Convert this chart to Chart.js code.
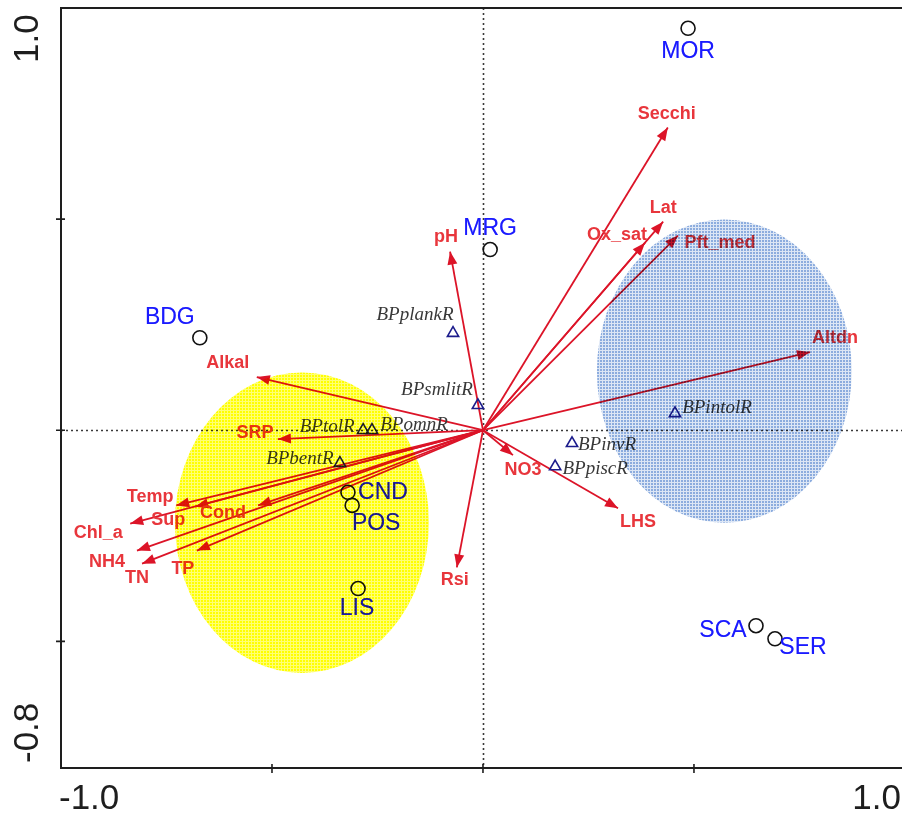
<!DOCTYPE html>
<html>
<head>
<meta charset="utf-8">
<script src="https://cdn.jsdelivr.net/npm/chart.js@4.4.1/dist/chart.umd.min.js"></script>
<style>
  html, body { margin: 0; padding: 0; background: #ffffff; }
  canvas { display: block; }
</style>
</head>
<body>
<canvas id="rda" width="902" height="814"></canvas>
<script>
// Environmental variables drawn as biplot arrows from the origin
const envNames = ['Secchi','Lat','Ox_sat','Pft_med','Altdn','pH','Alkal','SRP','Temp','Sup','Cond','Chl_a','NH4','TN','TP','NO3','LHS','Rsi'];
const envX = [0.438, 0.427, 0.384, 0.462, 0.775, -0.078, -0.536, -0.486, -0.727, -0.682, -0.533, -0.836, -0.820, -0.808, -0.678, 0.071, 0.320, -0.062];
const envY = [0.717, 0.494, 0.444, 0.461, 0.185, 0.423, 0.126, -0.021, -0.178, -0.181, -0.178, -0.221, -0.285, -0.316, -0.285, -0.059, -0.185, -0.325];

// Sampling sites
const siteNames = ['MOR','MRG','BDG','CND','POS','LIS','SCA','SER'];
const siteX = [0.486, 0.017, -0.671, -0.320, -0.310, -0.296, 0.647, 0.692];
const siteY = [0.952, 0.428, 0.219, -0.147, -0.178, -0.375, -0.463, -0.494];

// Biological metrics
const sppNames = ['BPplankR','BPsmlitR','BPtolR','BPomnR','BPbentR','BPintolR','BPinvR','BPpiscR'];
const sppX = [-0.071, -0.012, -0.284, -0.263, -0.339, 0.455, 0.211, 0.171];
const sppY = [0.230, 0.059, 0.000, 0.000, -0.078, 0.040, -0.031, -0.086];

// Site groups (centre and semi-axes, in axis units)
const groupCX = [-0.429, 0.572];
const groupCY = [-0.219, 0.140];
const groupRX = [0.301, 0.302];
const groupRY = [0.356, 0.359];

// Axis tick labels
const xTickValues = [-1.0, 1.0];
const xTickLabels = ['-1.0', '1.0'];
const yTickValues = [1.0, -0.8];
const yTickLabels = ['1.0', '-0.8'];

// ---- layout / styling (pixel offsets of labels from their marks) ----
const envLabelOffset = {
  Secchi: [-1, -13], Lat: [0, -14], Ox_sat: [-28, -8], Pft_med: [42, 7], Altdn: [25, -14],
  pH: [-4, -15], Alkal: [-29, -14], SRP: [-23, -6], Temp: [-26, -8], Sup: [-27, 13],
  Cond: [-35, 8], Chl_a: [-32, 9], NH4: [-30, 11], TN: [-5, 14], TP: [-14, 18],
  NO3: [10, 15], LHS: [20, 14], Rsi: [-2, 13]
};
const siteLabelOffset = {
  MOR: [0, 23], MRG: [0, -21], BDG: [-30, -20], CND: [35, 0],
  POS: [24, 18], LIS: [-1, 20], SCA: [-33, 5], SER: [28, 9]
};
const sppLabelOffset = {
  BPplankR: [-38, -18], BPsmlitR: [-41, -15], BPtolR: [-36, -3], BPomnR: [42, -5],
  BPbentR: [-40, -4], BPintolR: [42, -5], BPinvR: [35, 2], BPpiscR: [40, 2]
};

const ARROW_RED = '#dc1428';
const LABEL_RED = '#e8363c';
const SITE_BLUE = '#1a1aff';
const SPP_NAVY = '#1c1c8c';
const AXIS_DARK = '#1e1e1e';
const SITE_FONT = '23px "Liberation Sans", Arial, sans-serif';

// small repeating tile: solid cells separated by faint grid lines
function makePattern(rgb, gapAlpha) {
  const t = document.createElement('canvas');
  t.width = 3; t.height = 3;
  const g = t.getContext('2d');
  g.fillStyle = 'rgba(' + rgb + ',' + gapAlpha + ')';
  g.fillRect(0, 0, 3, 3);
  g.clearRect(0, 0, 2, 2);
  g.fillStyle = 'rgb(' + rgb + ')';
  g.fillRect(0, 0, 2, 2);
  return t;
}

const groupPatternRGB = ['255,255,0', '140,172,222'];
const groupGapAlpha = [0.55, 0.3];

// Arrow shafts, one line dataset per variable
const arrowDatasets = envNames.map((n, i) => ({
  label: n,
  data: [{ x: 0, y: 0 }, { x: envX[i], y: envY[i] }],
  showLine: true,
  borderColor: ARROW_RED,
  borderWidth: 1.8,
  pointRadius: 0,
  fill: false
}));

const siteDataset = {
  label: 'sites',
  data: siteNames.map((n, i) => ({ x: siteX[i], y: siteY[i] })),
  pointStyle: 'circle',
  pointRadius: 7,
  borderColor: '#111111',
  backgroundColor: 'rgba(0,0,0,0)',
  borderWidth: 1.6,
  showLine: false
};

const sppDataset = {
  label: 'metrics',
  data: sppNames.map((n, i) => ({ x: sppX[i], y: sppY[i] })),
  pointStyle: 'triangle',
  pointRadius: 6.5,
  borderColor: SPP_NAVY,
  backgroundColor: 'rgba(0,0,0,0)',
  borderWidth: 1.6,
  showLine: false
};

function drawSiteLabels(ctx, x, y) {
  ctx.font = SITE_FONT;
  ctx.fillStyle = SITE_BLUE;
  siteNames.forEach((n, i) => {
    const o = siteLabelOffset[n];
    ctx.fillText(n, x.getPixelForValue(siteX[i]) + o[0], y.getPixelForValue(siteY[i]) + o[1]);
  });
}

const biplotPlugin = {
  id: 'biplot',
  beforeDatasetsDraw(chart) {
    const { ctx, chartArea: a, scales: { x, y } } = chart;
    ctx.save();
    ctx.strokeStyle = '#3a3a3a';
    ctx.lineWidth = 1.6;
    ctx.setLineDash([2, 3]);
    const x0 = Math.round(x.getPixelForValue(0)) + 0.5;
    const y0 = Math.round(y.getPixelForValue(0)) + 0.5;
    ctx.beginPath();
    ctx.moveTo(x0, a.top); ctx.lineTo(x0, a.bottom);
    ctx.moveTo(a.left, y0); ctx.lineTo(a.right, y0);
    ctx.stroke();
    ctx.restore();
  },
  afterDatasetsDraw(chart) {
    const { ctx, chartArea: a, scales: { x, y } } = chart;
    ctx.save();

    // arrow heads
    const ox = x.getPixelForValue(0), oy = y.getPixelForValue(0);
    ctx.fillStyle = ARROW_RED;
    envNames.forEach((n, i) => {
      const hx = x.getPixelForValue(envX[i]), hy = y.getPixelForValue(envY[i]);
      const ang = Math.atan2(hy - oy, hx - ox);
      const L = 13, W = 5;
      ctx.beginPath();
      ctx.moveTo(hx, hy);
      ctx.lineTo(hx - L * Math.cos(ang) + W * Math.sin(ang), hy - L * Math.sin(ang) - W * Math.cos(ang));
      ctx.lineTo(hx - L * Math.cos(ang) - W * Math.sin(ang), hy - L * Math.sin(ang) + W * Math.cos(ang));
      ctx.closePath();
      ctx.fill();
    });

    ctx.textAlign = 'center';
    ctx.textBaseline = 'middle';

    // variable labels
    ctx.font = 'bold 18px "Liberation Sans", Arial, sans-serif';
    ctx.fillStyle = LABEL_RED;
    envNames.forEach((n, i) => {
      const o = envLabelOffset[n];
      ctx.fillText(n, x.getPixelForValue(envX[i]) + o[0], y.getPixelForValue(envY[i]) + o[1]);
    });

    // site labels
    drawSiteLabels(ctx, x, y);

    // metric labels
    ctx.font = 'italic 19px "Liberation Serif", "Times New Roman", serif';
    ctx.fillStyle = '#383838';
    sppNames.forEach((n, i) => {
      const o = sppLabelOffset[n];
      ctx.fillText(n, x.getPixelForValue(sppX[i]) + o[0], y.getPixelForValue(sppY[i]) + o[1]);
    });

    // group ellipses, laid over the marks as a textured tint
    ctx.globalCompositeOperation = 'multiply';
    groupCX.forEach((cx, i) => {
      const px = x.getPixelForValue(cx), py = y.getPixelForValue(groupCY[i]);
      const rx = Math.abs(x.getPixelForValue(cx + groupRX[i]) - px);
      const ry = Math.abs(y.getPixelForValue(groupCY[i] + groupRY[i]) - py);
      ctx.fillStyle = ctx.createPattern(makePattern(groupPatternRGB[i], groupGapAlpha[i]), 'repeat');
      ctx.beginPath();
      ctx.ellipse(px, py, rx, ry, 0, 0, Math.PI * 2);
      ctx.fill();
    });
    ctx.globalCompositeOperation = 'source-over';

    // site names stay legible through the tint
    ctx.globalAlpha = 0.45;
    drawSiteLabels(ctx, x, y);
    ctx.globalAlpha = 1;

    // axes frame (left, top, bottom)
    ctx.strokeStyle = AXIS_DARK;
    ctx.lineWidth = 2;
    ctx.beginPath();
    ctx.moveTo(chart.width, a.top); ctx.lineTo(a.left, a.top);
    ctx.lineTo(a.left, a.bottom); ctx.lineTo(chart.width, a.bottom);
    ctx.stroke();

    // tick marks
    ctx.lineWidth = 1.6;
    ctx.beginPath();
    [-0.5, 0, 0.5].forEach(v => {
      const px = x.getPixelForValue(v);
      ctx.moveTo(px, a.bottom - 4); ctx.lineTo(px, a.bottom + 5);
      const py = y.getPixelForValue(v);
      ctx.moveTo(a.left - 5, py); ctx.lineTo(a.left + 4, py);
    });
    ctx.stroke();

    // tick labels
    ctx.fillStyle = AXIS_DARK;
    ctx.font = '35px "Liberation Sans", Arial, sans-serif';
    ctx.textBaseline = 'middle';
    ctx.textAlign = 'left';
    ctx.fillText(xTickLabels[0], x.getPixelForValue(xTickValues[0]) - 2, a.bottom + 31);
    ctx.textAlign = 'right';
    ctx.fillText(xTickLabels[1], chart.width - 1, a.bottom + 31);

    ctx.translate(28, 0);
    ctx.rotate(-Math.PI / 2);
    ctx.textAlign = 'left';
    ctx.fillText(yTickLabels[0], -(y.getPixelForValue(yTickValues[0]) + 55), 0);
    ctx.fillText(yTickLabels[1], -(y.getPixelForValue(yTickValues[1]) - 5), 0);
    ctx.restore();
  }
};

new Chart(document.getElementById('rda'), {
  type: 'scatter',
  data: { datasets: [sppDataset, siteDataset, ...arrowDatasets] },
  options: {
    responsive: false,
    animation: false,
    events: [],
    layout: { autoPadding: false, padding: { left: 61, right: 0, top: 8, bottom: 46 } },
    plugins: { legend: { display: false }, tooltip: { enabled: false } },
    scales: {
      x: { type: 'linear', min: -1.0, max: 0.993, display: false },
      y: { type: 'linear', min: -0.8, max: 1.0, display: false }
    }
  },
  plugins: [biplotPlugin]
});
</script>
</body>
</html>
